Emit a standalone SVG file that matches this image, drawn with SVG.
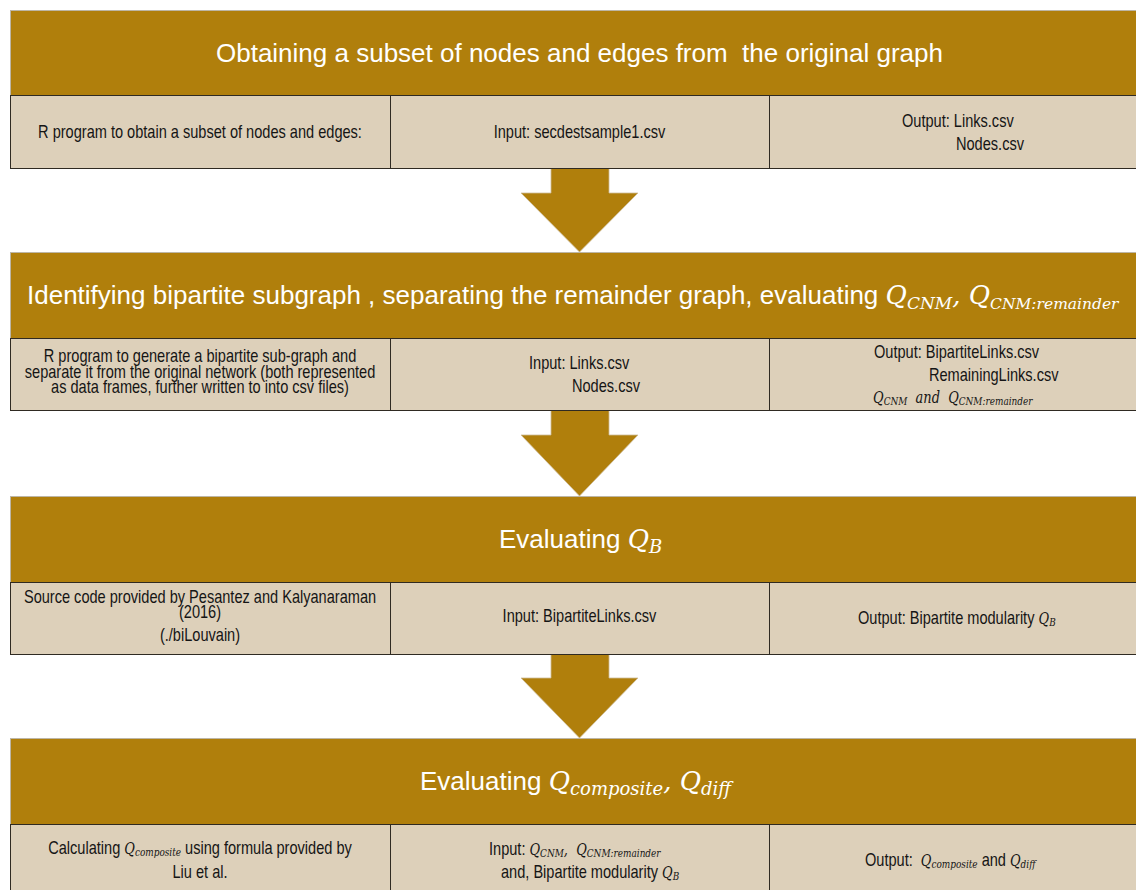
<svg xmlns="http://www.w3.org/2000/svg" width="1136" height="890" viewBox="0 0 1136 890">
<style>
.hdr{fill:#B07F0C;stroke:#BDB6A6;stroke-width:1}
.cell{fill:#DDD0BA;stroke:#2F2A22;stroke-width:1}
.div{stroke:#2F2A22;stroke-width:1}
.arrow{fill:#B07F0C;stroke:#CDBB98;stroke-width:0.8}
.ht{font-family:'Liberation Sans',Arial,sans-serif;font-size:26px;fill:#FFFFFF}
.ct{font-family:'Liberation Sans',Arial,sans-serif;font-size:18px;fill:#151515}
.m{font-family:'DejaVu Serif','Liberation Serif',serif;font-style:italic}
.hq{font-size:26px}
.hs{font-size:18px}
.cq{font-size:16px}
.cs{font-size:11px}
.c{text-anchor:middle}
</style>
<rect width="1136" height="890" fill="#FFFFFF"/>
<g id="connectors">
<polygon class="arrow" points="551,168 609,168 609,193 638,193 579.5,252 521,193 551,193"/>
<polygon class="arrow" points="551,410 609,410 609,435 638,435 579.5,496 521,435 551,435"/>
<polygon class="arrow" points="551,654 609,654 609,678 638,678 579.5,738 521,678 551,678"/>
</g>
<g id="step1">
<rect class="hdr" x="10.5" y="10.5" width="1140" height="85"/>
<text class="ht c" x="579.5" y="62" xml:space="preserve">Obtaining a subset of nodes and edges from  the original graph</text>
<rect class="cell" x="10.5" y="95.5" width="1140" height="73"/>
<line class="div" x1="390.5" y1="95.5" x2="390.5" y2="168.5"/>
<line class="div" x1="769.5" y1="95.5" x2="769.5" y2="168.5"/>
<text class="ct c" transform="translate(200 138) scale(0.81 1)">R program to obtain a subset of nodes and edges:</text>
<text class="ct c" transform="translate(579.5 138) scale(0.81 1)">Input: secdestsample1.csv</text>
<text class="ct" transform="translate(902 127) scale(0.81 1)">Output: Links.csv</text>
<text class="ct" transform="translate(956 150) scale(0.81 1)">Nodes.csv</text>
</g>
<g id="step2">
<rect class="hdr" x="10.5" y="252.5" width="1140" height="86"/>
<text class="ht" x="27" y="304">Identifying bipartite subgraph , separating the remainder graph, evaluating <tspan class="m hq">Q</tspan><tspan class="m" font-size="17" dy="5">CNM</tspan><tspan class="m" dy="-5">, </tspan><tspan class="m hq">Q</tspan><tspan class="m" font-size="15.5" dy="5">CNM:remainder</tspan></text>
<rect class="cell" x="10.5" y="338.5" width="1140" height="72"/>
<line class="div" x1="390.5" y1="338.5" x2="390.5" y2="410.5"/>
<line class="div" x1="769.5" y1="338.5" x2="769.5" y2="410.5"/>
<text class="ct c" transform="translate(200 362) scale(0.81 1)">R program to generate a bipartite sub-graph and</text>
<text class="ct c" transform="translate(200 377.5) scale(0.81 1)">separate it from the original network (both represented</text>
<text class="ct c" transform="translate(200 393) scale(0.81 1)">as data frames, further written to into csv files)</text>
<text class="ct" transform="translate(529 369) scale(0.81 1)">Input: Links.csv</text>
<text class="ct" transform="translate(572 392) scale(0.81 1)">Nodes.csv</text>
<text class="ct" transform="translate(874 358) scale(0.81 1)">Output: BipartiteLinks.csv</text>
<text class="ct" transform="translate(929 381) scale(0.81 1)">RemainingLinks.csv</text>
<text class="ct m" transform="translate(873 403) scale(0.81 1)" xml:space="preserve"><tspan class="cq">Q</tspan><tspan class="cs" dy="2">CNM</tspan><tspan class="cq" dy="-2">  and  Q</tspan><tspan class="cs" dy="2">CNM:remainder</tspan></text>
</g>
<g id="step3">
<rect class="hdr" x="10.5" y="496.5" width="1140" height="86"/>
<text class="ht" x="499" y="548">Evaluating <tspan class="m hq">Q</tspan><tspan class="m hs" dy="5">B</tspan></text>
<rect class="cell" x="10.5" y="582.5" width="1140" height="72"/>
<line class="div" x1="390.5" y1="582.5" x2="390.5" y2="654.5"/>
<line class="div" x1="769.5" y1="582.5" x2="769.5" y2="654.5"/>
<text class="ct c" transform="translate(200 603) scale(0.81 1)">Source code provided by Pesantez and Kalyanaraman</text>
<text class="ct c" transform="translate(200 618) scale(0.81 1)">(2016)</text>
<text class="ct c" transform="translate(200 641) scale(0.81 1)">(./biLouvain)</text>
<text class="ct c" transform="translate(579.5 622) scale(0.81 1)">Input: BipartiteLinks.csv</text>
<text class="ct" transform="translate(858 624) scale(0.81 1)">Output: Bipartite modularity <tspan class="m cq">Q</tspan><tspan class="m cs" dy="2">B</tspan></text>
</g>
<g id="step4">
<rect class="hdr" x="10.5" y="738.5" width="1140" height="86"/>
<text class="ht" x="420" y="790">Evaluating <tspan class="m hq">Q</tspan><tspan class="m hs" dy="5">composite</tspan><tspan class="m" dy="-5">, </tspan><tspan class="m hq">Q</tspan><tspan class="m hs" dy="5">diff</tspan></text>
<rect class="cell" x="10.5" y="824.5" width="1140" height="80"/>
<line class="div" x1="390.5" y1="824.5" x2="390.5" y2="904"/>
<line class="div" x1="769.5" y1="824.5" x2="769.5" y2="904"/>
<text class="ct c" transform="translate(200 854) scale(0.81 1)">Calculating <tspan class="m cq">Q</tspan><tspan class="m cs" dy="2">composite</tspan><tspan dy="-2"> using formula provided by</tspan></text>
<text class="ct c" transform="translate(200 878) scale(0.81 1)">Liu et al.</text>
<text class="ct" transform="translate(489 855) scale(0.81 1)" xml:space="preserve">Input: <tspan class="m cq">Q</tspan><tspan class="m cs" dy="2">CNM</tspan><tspan class="m cq" dy="-2">,  Q</tspan><tspan class="m cs" dy="2">CNM:remainder</tspan></text>
<text class="ct" transform="translate(501 878) scale(0.81 1)">and, Bipartite modularity <tspan class="m cq">Q</tspan><tspan class="m cs" dy="2">B</tspan></text>
<text class="ct" transform="translate(865 866) scale(0.81 1)" xml:space="preserve">Output:  <tspan class="m cq">Q</tspan><tspan class="m cs" dy="2">composite</tspan><tspan dy="-2"> and </tspan><tspan class="m cq">Q</tspan><tspan class="m cs" dy="2">diff</tspan></text>
</g>
</svg>
